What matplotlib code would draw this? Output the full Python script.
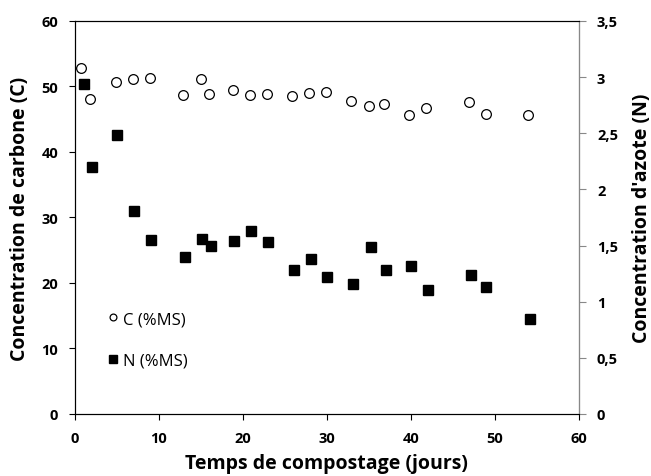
import matplotlib.pyplot as plt
from matplotlib.ticker import FuncFormatter

# Carbon (% MS) vs day
days_c = [0.7, 1.8, 4.9, 6.9, 8.9, 12.9, 15.0, 16.0, 18.8, 20.8, 22.9,
          25.8, 27.9, 29.9, 32.9, 35.0, 36.8, 39.8, 41.8, 46.9, 48.9, 53.9]
carbon = [52.8, 48.1, 50.7, 51.1, 51.3, 48.7, 51.1, 48.9, 49.5, 48.7, 48.9,
          48.5, 49.0, 49.2, 47.8, 47.0, 47.3, 45.6, 46.7, 47.6, 45.8, 45.6]

# Nitrogen (% MS) vs day
days_n = [1.1, 2.0, 5.0, 7.0, 9.0, 13.1, 15.1, 16.2, 18.9, 21.0, 23.0,
          26.1, 28.1, 30.0, 33.1, 35.2, 37.0, 40.0, 42.0, 47.1, 49.0, 54.2]
nitrogen = [2.94, 2.20, 2.48, 1.81, 1.55, 1.40, 1.56, 1.50, 1.54, 1.63, 1.53,
            1.28, 1.38, 1.22, 1.16, 1.49, 1.28, 1.32, 1.10, 1.24, 1.13, 0.85]

plt.rcParams['font.family'] = ['Open Sans', 'DejaVu Sans']

fig = plt.figure(figsize=(6.51, 4.77), dpi=100)
ax = fig.add_axes([0.1152, 0.130, 0.774, 0.824])
ax2 = ax.twinx()

h1, = ax.plot(days_c, carbon, 'o', mfc='white', mec='black', mew=0.9, ms=7, label='C (%MS)')
h2, = ax2.plot(days_n, nitrogen, 's', color='black', ms=7.5, label='N (%MS)')

ax.set_xlim(0, 60)
ax.set_ylim(0, 60)
ax2.set_ylim(0, 3.5)
ax.set_xticks(range(0, 61, 10))
ax.set_yticks(range(0, 61, 10))
ax2.set_yticks([0, 0.5, 1, 1.5, 2, 2.5, 3, 3.5])
ax2.yaxis.set_major_formatter(FuncFormatter(lambda v, p: ('%g' % v).replace('.', ',')))

for a in (ax, ax2):
    a.tick_params(direction='out', length=4, width=0.8, labelsize=10.5)
    for lbl in a.get_xticklabels() + a.get_yticklabels():
        lbl.set_fontweight('bold')
ax.tick_params(axis='x', pad=8)
ax.tick_params(axis='y', pad=8)
ax2.spines['right'].set_color('#888888')
ax2.tick_params(axis='y', colors='#888888', labelcolor='black', length=5, pad=8)

ax.set_xlabel('Temps de compostage (jours)', fontsize=14, fontweight='bold', labelpad=6)
ax.set_ylabel('Concentration de carbone (C)', fontsize=14, fontweight='bold', labelpad=8)
ax2.set_ylabel("Concentration d'azote (N)", fontsize=14, fontweight='bold', labelpad=10)

ax.legend(handles=[h1, h2], loc='upper left', bbox_to_anchor=(0.035, 0.30), frameon=False,
          labelspacing=1.55, handlelength=0.6, handletextpad=0.3, fontsize=12, markerscale=0.7)

fig.savefig('out.png', dpi=100)
